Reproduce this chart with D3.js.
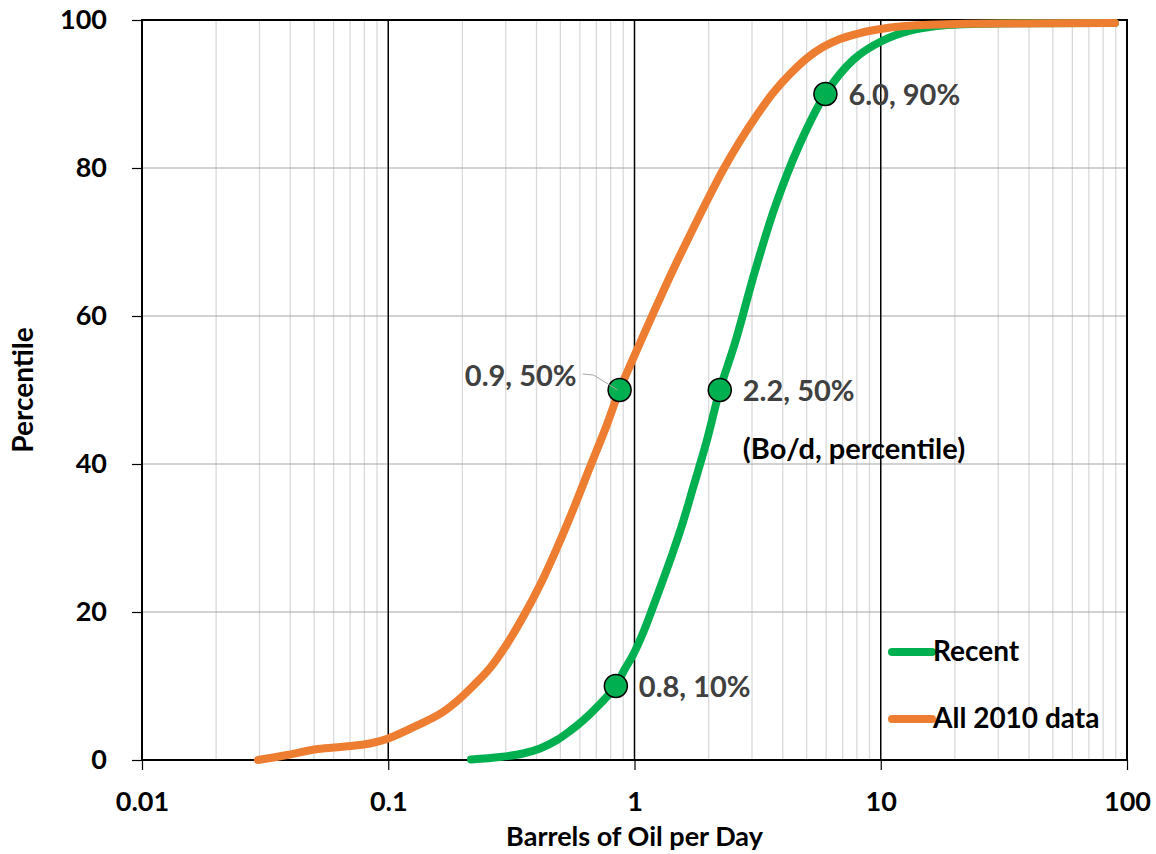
<!DOCTYPE html>
<html>
<head>
<meta charset="utf-8">
<script src="https://cdn.jsdelivr.net/npm/d3@7/dist/d3.min.js"></script>
<style>
  html, body { margin: 0; padding: 0; background: #fff; }
  svg { display: block; }
  text { font-family: Lato, "Open Sans", sans-serif; font-weight: 700; }
</style>
</head>
<body>
<svg id="chart" width="1156" height="854"></svg>
<script>
// Cumulative distribution of oil production per well (barrels/day vs percentile)
const seriesNames = ["Recent", "All 2010 data"];
const seriesColors = ["#00B050", "#ED7D31"];

// Recent wells: barrels per day and matching percentile
const recentBopd = [0.2168, 0.2843, 0.3525, 0.4133, 0.4845, 0.547, 0.6178, 0.7244, 0.84, 0.9087, 0.9861, 1.0828, 1.1888, 1.3053, 1.4336, 1.5738, 1.7281, 1.9697, 2.22, 2.5664, 3.095, 3.7305, 4.6696, 5.96, 7.7157, 10.02, 13.52, 18.58, 30.5, 89.4];
const recentPct  = [0.07, 0.41, 0.88, 1.55, 2.7, 3.92, 5.34, 7.57, 10, 12.16, 14.19, 17.16, 20.68, 24.32, 28.11, 32.16, 36.76, 43.24, 50, 56.49, 66.22, 74.86, 83.11, 90, 94.59, 97.09, 98.65, 99.32, 99.53, 99.59];

// All 2010 wells: barrels per day and matching percentile
const allBopd = [0.02958, 0.0388, 0.05184, 0.06675, 0.08431, 0.1, 0.1346, 0.1622, 0.1884, 0.2209, 0.259, 0.3035, 0.3525, 0.4133, 0.4845, 0.5626, 0.6597, 0.7662, 0.87, 1.0528, 1.234, 1.4336, 1.6803, 1.9697, 2.2879, 2.6818, 3.1445, 3.6512, 4.2797, 5.0178, 5.8281, 6.8317, 8.2366, 10, 11.97, 14.84, 20.4, 30.5, 89.4];
const allPct  = [0, 0.68, 1.49, 1.82, 2.23, 2.9, 4.86, 6.22, 7.84, 10.0, 12.43, 15.68, 19.32, 23.65, 28.65, 33.78, 39.59, 45.0, 50, 56.35, 61.49, 66.22, 70.95, 75.57, 79.73, 83.65, 87.16, 90.14, 92.7, 94.86, 96.35, 97.43, 98.24, 98.78, 99.12, 99.32, 99.46, 99.53, 99.59];

// Highlighted points (Bo/d, percentile)
const markerBopd = [0.84, 2.22, 5.96, 0.87];
const markerPct  = [10, 50, 90, 50];

const xTickValues = [0.01, 0.1, 1, 10, 100];
const xTickLabels = ["0.01", "0.1", "1", "10", "100"];
const yTickValues = [0, 20, 40, 60, 80, 100];

const xTitle = "Barrels of Oil per Day";
const yTitle = "Percentile";
const noteText = "(Bo/d, percentile)";

const svg = d3.select("#chart");
const plotL = 142, plotR = 1127, plotT = 20, plotB = 760;

const x = d3.scaleLog().domain([0.01, 100]).range([plotL, plotR]);
const y = d3.scaleLinear().domain([0, 100]).range([plotB, plotT]);

// Minor vertical gridlines (2..9 within each decade)
const minor = [];
for (let e = -2; e < 2; e++) {
  for (let m = 2; m <= 9; m++) minor.push(m * Math.pow(10, e));
}
svg.append("g").selectAll("line").data(minor).join("line")
  .attr("x1", d => x(d)).attr("x2", d => x(d))
  .attr("y1", plotT).attr("y2", plotB)
  .attr("stroke", "#d9d9d9").attr("stroke-width", 1.3);

// Horizontal gridlines
svg.append("g").selectAll("line").data(yTickValues.filter(v => v > 0 && v < 100)).join("line")
  .attr("x1", plotL).attr("x2", plotR)
  .attr("y1", d => y(d)).attr("y2", d => y(d))
  .attr("stroke", "#a6a6a6").attr("stroke-width", 1.2);

// Decade gridlines
svg.append("g").selectAll("line").data([0.1, 1, 10]).join("line")
  .attr("x1", d => x(d)).attr("x2", d => x(d))
  .attr("y1", plotT).attr("y2", plotB)
  .attr("stroke", "#000").attr("stroke-width", 1.5);

// Axes
const xAxis = d3.axisBottom(x).tickValues(xTickValues)
  .tickFormat((d, i) => xTickLabels[i]).tickSize(10).tickPadding(22);
const gx = svg.append("g").attr("transform", `translate(0,${plotB})`).call(xAxis);
gx.select(".domain").remove();
gx.selectAll(".tick line").attr("stroke", "#000").attr("stroke-width", 1.2);
gx.selectAll(".tick text").attr("font-size", 27).attr("fill", "#000")
  .attr("font-family", "Lato, sans-serif").attr("font-weight", 700);

const yAxis = d3.axisLeft(y).tickValues(yTickValues).tickSize(10).tickPadding(25);
const gy = svg.append("g").attr("transform", `translate(${plotL},0)`).call(yAxis);
gy.select(".domain").remove();
gy.selectAll(".tick line").attr("stroke", "#000").attr("stroke-width", 1.2);
gy.selectAll(".tick text").attr("font-size", 27).attr("fill", "#000")
  .attr("font-family", "Lato, sans-serif").attr("font-weight", 700);

// Plot frame
svg.append("rect").attr("x", plotL).attr("y", plotT)
  .attr("width", plotR - plotL).attr("height", plotB - plotT)
  .attr("fill", "none").attr("stroke", "#000").attr("stroke-width", 2);

// Curves
const line = d3.line()
  .x(d => x(d[0])).y(d => y(d[1]))
  .curve(d3.curveCatmullRom.alpha(0.5));

const series = [
  d3.zip(recentBopd, recentPct),
  d3.zip(allBopd, allPct)
];
svg.append("g").selectAll("path").data(series).join("path")
  .attr("d", line)
  .attr("fill", "none")
  .attr("stroke", (d, i) => seriesColors[i])
  .attr("stroke-width", 8)
  .attr("stroke-linecap", "round")
  .attr("stroke-linejoin", "round");

// Markers
const markers = d3.zip(markerBopd, markerPct);
svg.append("g").selectAll("circle").data(markers).join("circle")
  .attr("cx", d => x(d[0])).attr("cy", d => y(d[1]))
  .attr("r", 11.5)
  .attr("fill", "#00B050").attr("stroke", "#000").attr("stroke-width", 1.5);

// Leader line for the left-hand label
const lm = markers[3];
svg.append("polyline")
  .attr("points", [[x(lm[0]) - 37, y(lm[1]) - 16], [x(lm[0]) - 26, y(lm[1]) - 15], [x(lm[0]) - 2, y(lm[1])]].map(p => p.join(",")).join(" "))
  .attr("fill", "none").attr("stroke", "#a6a6a6").attr("stroke-width", 1);

// Marker labels
const fmt = d => `${d[0].toFixed(1)}, ${d[1]}%`;
svg.append("g").selectAll("text").data(markers).join("text")
  .attr("x", (d, i) => i === 3 ? x(d[0]) - 43 : x(d[0]) + 23)
  .attr("y", (d, i) => i === 3 ? y(d[1]) - 4 : y(d[1]) + 11)
  .attr("text-anchor", (d, i) => i === 3 ? "end" : "start")
  .attr("font-size", 29).attr("fill", "#404040")
  .text(fmt);

svg.append("text")
  .attr("x", x(markerBopd[1]) + 23).attr("y", y(40) - 5)
  .attr("font-size", 29).attr("fill", "#000")
  .text(noteText);

// Legend
const legend = svg.append("g").selectAll("g").data(seriesNames).join("g")
  .attr("transform", (d, i) => `translate(892,${652 + i * 67})`);
legend.append("line")
  .attr("x1", 0).attr("x2", 40)
  .attr("stroke", (d, i) => seriesColors[i])
  .attr("stroke-width", 8).attr("stroke-linecap", "round");
legend.append("text")
  .attr("x", 41).attr("y", 9)
  .attr("font-size", 28).attr("fill", "#000")
  .text(d => d);

// Axis titles
svg.append("text")
  .attr("x", (plotL + plotR) / 2).attr("y", 846)
  .attr("text-anchor", "middle")
  .attr("font-size", 27).attr("fill", "#000")
  .text(xTitle);

svg.append("text")
  .attr("transform", `translate(33,${(plotT + plotB) / 2}) rotate(-90)`)
  .attr("text-anchor", "middle")
  .attr("font-size", 28).attr("fill", "#000")
  .text(yTitle);
</script>
</body>
</html>
